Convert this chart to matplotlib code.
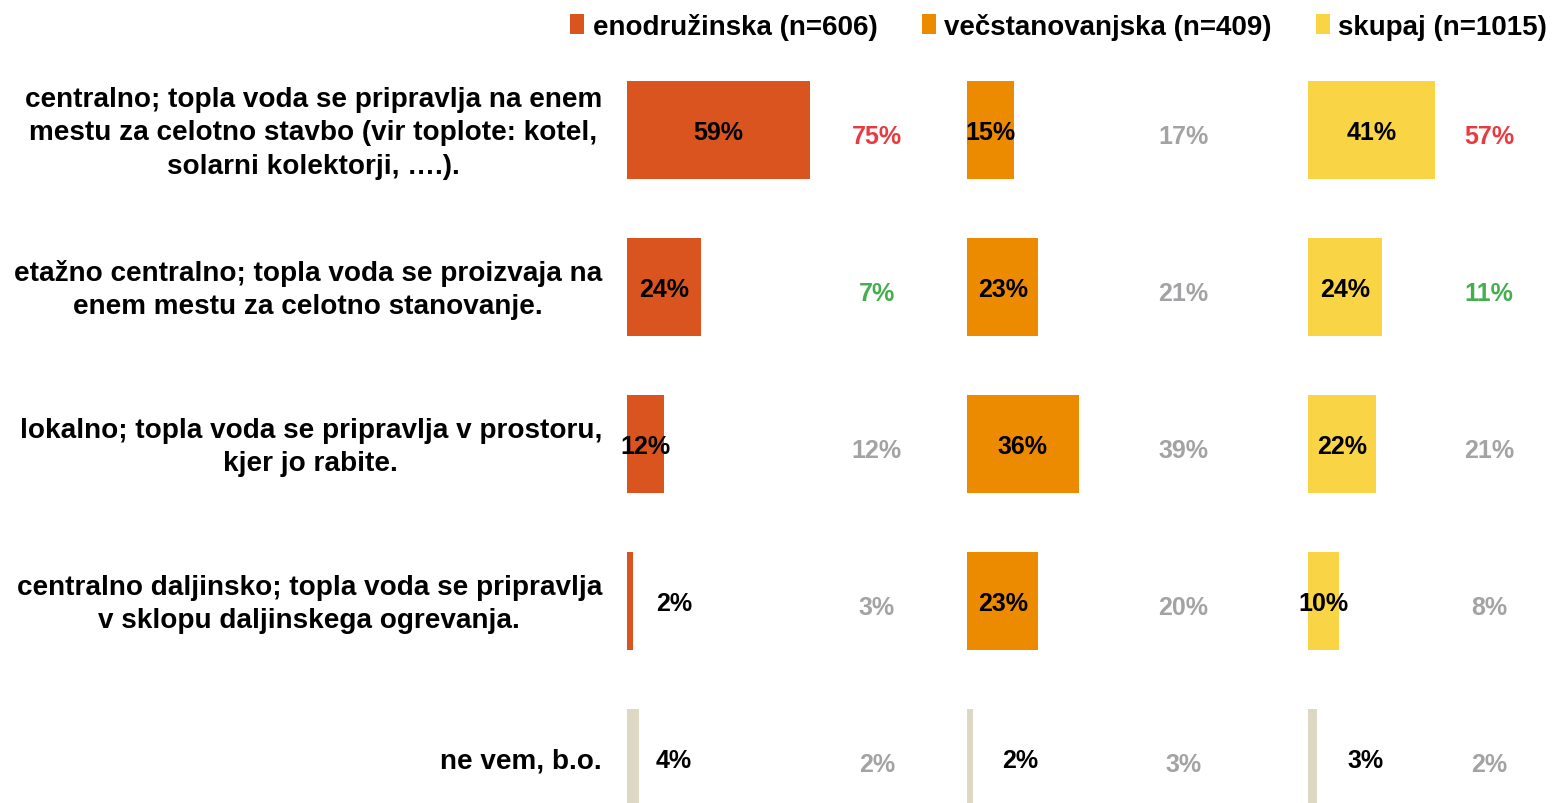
import matplotlib
matplotlib.use("Agg")
import matplotlib.pyplot as plt
from matplotlib.patches import Patch

plt.rcParams['font.family'] = ['Liberation Sans', 'DejaVu Sans']
plt.rcParams['font.weight'] = 'bold'

categories = [
    "centralno; topla voda se pripravlja na enem\nmestu za celotno stavbo (vir toplote: kotel,\nsolarni kolektorji, \u2026.).",
    "etažno centralno; topla voda se proizvaja na\nenem mestu za celotno stanovanje.",
    "lokalno; topla voda se pripravlja v prostoru,\nkjer jo rabite.",
    "centralno daljinsko; topla voda se pripravlja\nv sklopu daljinskega ogrevanja.",
    "ne vem, b.o.",
]
series_names = ["enodružinska (n=606)", "večstanovanjska (n=409)", "skupaj (n=1015)"]
values = [
    [59, 24, 12, 2, 4],
    [15, 23, 36, 23, 2],
    [41, 24, 22, 10, 3],
]
compare_values = [
    [75, 7, 12, 3, 2],
    [17, 21, 39, 20, 3],
    [57, 11, 21, 8, 2],
]
# comparison colour code: 'up' red, 'down' green, 'same' gray
compare_flags = [
    ['up', 'down', 'same', 'same', 'same'],
    ['same', 'same', 'same', 'same', 'same'],
    ['up', 'down', 'same', 'same', 'same'],
]

series_colors = ["#DA5420", "#EC8B00", "#F9D444"]
other_color = "#DDD8C3"
flag_colors = {'up': "#E93A3F", 'down': "#46AE4E", 'same': "#A3A3A5"}

W, H = 1552, 804
fig = plt.figure(figsize=(W / 100, H / 100), dpi=100)

px_per_pct = 3.1
panel_left_px = [627, 967, 1308]
compare_x = [80.6, 69.7, 58.4]
small_label_x = [15.2, 17.0, 18.7]
row0_px, row_step_px, bar_px = 131, 157, 98

n = len(categories)
ylim_top = -row0_px / row_step_px
ylim_bot = (H - row0_px) / row_step_px
axw_px = 330

for p in range(3):
    ax = fig.add_axes([panel_left_px[p] / W, 0, axw_px / W, 1])
    ax.set_xlim(0, axw_px / px_per_pct)
    ax.set_ylim(ylim_bot, ylim_top)
    ax.axis('off')
    cols = [series_colors[p]] * (n - 1) + [other_color]
    ax.barh(range(n), values[p], height=bar_px / row_step_px, color=cols,
            edgecolor='none')
    for i, v in enumerate(values[p]):
        x = v / 2 if v >= 10 else small_label_x[p]
        ax.text(x, i + 0.01, f"{v}%", ha='center', va='center', fontsize=18,
                fontweight='bold', color='black', clip_on=False)
        ax.text(compare_x[p], i + 0.04, f"{compare_values[p][i]}%", ha='center',
                va='center', fontsize=18, fontweight='bold',
                color=flag_colors[compare_flags[p][i]], clip_on=False)
    if p == 0:
        for i, c in enumerate(categories):
            ax.text(-25 / px_per_pct, i + 0.015, c, ha='right', va='center',
                    multialignment='center', fontsize=20.1, fontweight='bold',
                    linespacing=1.36, clip_on=False)

handles = [Patch(facecolor=c, edgecolor='none') for c in series_colors]
fig.legend(handles, series_names, loc='upper right', bbox_to_anchor=(1561 / W, 1.0),
           ncol=3, frameon=False, handlelength=0.5, handleheight=0.7,
           handletextpad=0.3, columnspacing=1.6, borderaxespad=0.1,
           prop={'weight': 'bold', 'size': 20})

fig.savefig("out.png", dpi=100)
